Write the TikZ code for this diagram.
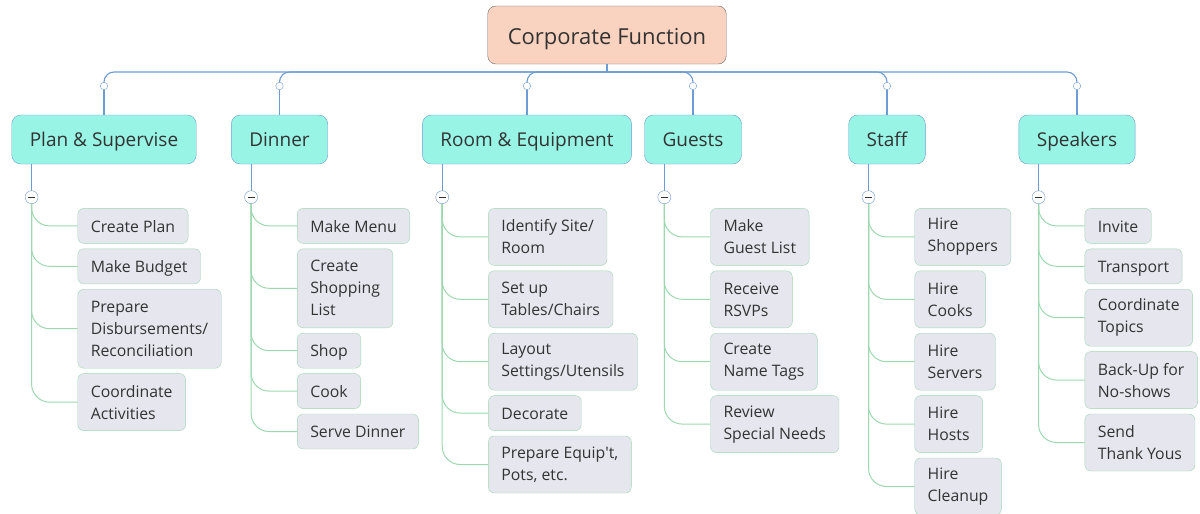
\documentclass[tikz,border=0pt]{standalone}
\usepackage{fontspec}
\setmainfont{Open Sans}
\usetikzlibrary{positioning}
\definecolor{rootfill}{HTML}{FAD3C0}
\definecolor{branchfill}{HTML}{98F5E6}
\definecolor{leaffill}{HTML}{E6E6EF}
\definecolor{bluelink}{HTML}{6D9BD3}
\definecolor{greenlink}{HTML}{9DD8AF}
\definecolor{inkgray}{HTML}{333333}

\begin{document}
\begin{tikzpicture}[x=1pt, y=-1pt,
	root/.style={rectangle, rounded corners=8pt, draw=gray!80!black, fill=rootfill, minimum height=58pt, inner xsep=20pt, text height=19pt, text depth=0pt, font=\fontsize{22}{26}\selectfont, text=inkgray},
	branch/.style={rectangle, rounded corners=9pt, draw=bluelink, fill=branchfill, minimum height=49pt, inner xsep=18pt, text height=14.4pt, text depth=0pt, font=\fontsize{19}{22}\selectfont, text=inkgray},
	leaf/.style={rectangle, rounded corners=6pt, draw=greenlink, fill=leaffill, minimum height=35pt, inner xsep=13pt, align=left, font=\fontsize{15.8}{22}\selectfont, text=inkgray},
	oneline/.style={text height=12.5pt, text depth=0pt},
	twoline/.style={minimum height=57pt},
	threeline/.style={minimum height=79pt},
	knob/.style={circle, draw=bluelink, fill=white, inner sep=0pt, minimum size=7.5pt},
	fold/.style={circle, draw=bluelink, fill=white, inner sep=0pt, minimum size=13pt, path picture={\draw[inkgray, line width=1.1pt] ([xshift=-3.5pt]path picture bounding box.center) -- ([xshift=3.5pt]path picture bounding box.center);}},
	stem/.style={draw=bluelink, line width=1.1pt},
	twig/.style={draw=greenlink, line width=1pt, rounded corners=18pt}]
	\useasboundingbox (0,0) rectangle (1200,514);

	% nodes
	\node[root] (root) at (607,35) {Corporate Function};
	\coordinate (bar) at (607,72);

	\node[branch] (plan) at (104,139.5) {Plan \& Supervise};
	\node[branch] (dinner) at (279.5,139.5) {Dinner};
	\node[branch] (room) at (527,139.5) {Room \& Equipment};
	\node[branch] (guests) at (693,139.5) {Guests};
	\node[branch] (staff) at (887,139.5) {Staff};
	\node[branch] (speak) at (1077,139.5) {Speakers};

	\node[knob] (kplan) at (104,86) {};
	\node[knob] (kdinner) at (279.5,86) {};
	\node[knob] (kroom) at (527,86) {};
	\node[knob] (kguests) at (693,86) {};
	\node[knob] (kstaff) at (887,86) {};
	\node[knob] (kspeak) at (1077,86) {};

	\node[fold] (fplan) at ([shift={(20,33)}]plan.south west) {};
	\node[fold] (fdinner) at ([shift={(20,33)}]dinner.south west) {};
	\node[fold] (froom) at ([shift={(20,33)}]room.south west) {};
	\node[fold] (fguests) at ([shift={(20,33)}]guests.south west) {};
	\node[fold] (fstaff) at ([shift={(20,33)}]staff.south west) {};
	\node[fold] (fspeak) at ([shift={(20,33)}]speak.south west) {};

	% plan & supervise
	\node[leaf, oneline, anchor=north west] (mkplan) at ([shift={(46,11)}]fplan.center) {Create Plan};
	\node[leaf, oneline, below=5pt of mkplan.south west, anchor=north west] (budget) {Make Budget};
	\node[leaf, threeline, below=5pt of budget.south west, anchor=north west] (disb) {Prepare\\Disbursements/\\Reconciliation};
	\node[leaf, twoline, below=5pt of disb.south west, anchor=north west] (coact) {Coordinate\\Activities};

	% dinner
	\node[leaf, oneline, anchor=north west] (menu) at ([shift={(46,11)}]fdinner.center) {Make Menu};
	\node[leaf, threeline, below=5pt of menu.south west, anchor=north west] (shlist) {Create\\Shopping\\List};
	\node[leaf, oneline, below=5pt of shlist.south west, anchor=north west] (shop) {Shop};
	\node[leaf, oneline, below=5pt of shop.south west, anchor=north west] (cook) {Cook};
	\node[leaf, oneline, below=5pt of cook.south west, anchor=north west] (serve) {Serve Dinner};

	% room & equipment
	\node[leaf, twoline, anchor=north west] (site) at ([shift={(46,11)}]froom.center) {Identify Site/\\Room};
	\node[leaf, twoline, below=5pt of site.south west, anchor=north west] (tables) {Set up\\Tables/Chairs};
	\node[leaf, twoline, below=5pt of tables.south west, anchor=north west] (layout) {Layout\\Settings/Utensils};
	\node[leaf, oneline, below=5pt of layout.south west, anchor=north west] (decor) {Decorate};
	\node[leaf, twoline, below=5pt of decor.south west, anchor=north west] (equip) {Prepare Equip\textquotesingle t,\\Pots, etc.};

	% guests
	\node[leaf, twoline, anchor=north west] (glist) at ([shift={(46,11)}]fguests.center) {Make\\Guest List};
	\node[leaf, twoline, below=5pt of glist.south west, anchor=north west] (rsvp) {Receive\\RSVPs};
	\node[leaf, twoline, below=5pt of rsvp.south west, anchor=north west] (tags) {Create\\Name Tags};
	\node[leaf, twoline, below=5pt of tags.south west, anchor=north west] (needs) {Review\\Special Needs};

	% staff
	\node[leaf, twoline, anchor=north west] (shoppers) at ([shift={(46,11)}]fstaff.center) {Hire\\Shoppers};
	\node[leaf, twoline, below=5pt of shoppers.south west, anchor=north west] (cooks) {Hire\\Cooks};
	\node[leaf, twoline, below=5pt of cooks.south west, anchor=north west] (servers) {Hire\\Servers};
	\node[leaf, twoline, below=5pt of servers.south west, anchor=north west] (hosts) {Hire\\Hosts};
	\node[leaf, twoline, below=5pt of hosts.south west, anchor=north west] (cleanup) {Hire\\Cleanup};

	% speakers
	\node[leaf, oneline, anchor=north west] (invite) at ([shift={(46,11)}]fspeak.center) {Invite};
	\node[leaf, oneline, below=5pt of invite.south west, anchor=north west] (transp) {Transport};
	\node[leaf, twoline, below=5pt of transp.south west, anchor=north west] (topics) {Coordinate\\Topics};
	\node[leaf, twoline, below=5pt of topics.south west, anchor=north west] (backup) {Back-Up for\\No-shows};
	\node[leaf, twoline, below=5pt of backup.south west, anchor=north west] (thanks) {Send\\Thank Yous};

	% edges
	\draw[stem] (root) -- (bar);
	\draw[stem, rounded corners=10pt] (bar) -| (kplan);
	\draw[stem, rounded corners=10pt] (bar) -| (kdinner);
	\draw[stem, rounded corners=10pt] (bar) -| (kroom);
	\draw[stem, rounded corners=10pt] (bar) -| (kguests);
	\draw[stem, rounded corners=10pt] (bar) -| (kstaff);
	\draw[stem, rounded corners=10pt] (bar) -| (kspeak);
	\draw[stem] (kplan) -- (plan);
	\draw[stem] (kdinner) -- (dinner);
	\draw[stem] (kroom) -- (room);
	\draw[stem] (kguests) -- (guests);
	\draw[stem] (kstaff) -- (staff);
	\draw[stem] (kspeak) -- (speak);
	\draw[stem] (fplan) -- (fplan |- plan.south);
	\draw[stem] (fdinner) -- (fdinner |- dinner.south);
	\draw[stem] (froom) -- (froom |- room.south);
	\draw[stem] (fguests) -- (fguests |- guests.south);
	\draw[stem] (fstaff) -- (fstaff |- staff.south);
	\draw[stem] (fspeak) -- (fspeak |- speak.south);

	\draw[twig] (fplan) |- (mkplan);
	\draw[twig] (fplan) |- (budget);
	\draw[twig] (fplan) |- (disb);
	\draw[twig] (fplan) |- (coact);
	\draw[twig] (fdinner) |- (menu);
	\draw[twig] (fdinner) |- (shlist);
	\draw[twig] (fdinner) |- (shop);
	\draw[twig] (fdinner) |- (cook);
	\draw[twig] (fdinner) |- (serve);
	\draw[twig] (froom) |- (site);
	\draw[twig] (froom) |- (tables);
	\draw[twig] (froom) |- (layout);
	\draw[twig] (froom) |- (decor);
	\draw[twig] (froom) |- (equip);
	\draw[twig] (fguests) |- (glist);
	\draw[twig] (fguests) |- (rsvp);
	\draw[twig] (fguests) |- (tags);
	\draw[twig] (fguests) |- (needs);
	\draw[twig] (fstaff) |- (shoppers);
	\draw[twig] (fstaff) |- (cooks);
	\draw[twig] (fstaff) |- (servers);
	\draw[twig] (fstaff) |- (hosts);
	\draw[twig] (fstaff) |- (cleanup);
	\draw[twig] (fspeak) |- (invite);
	\draw[twig] (fspeak) |- (transp);
	\draw[twig] (fspeak) |- (topics);
	\draw[twig] (fspeak) |- (backup);
	\draw[twig] (fspeak) |- (thanks);
\end{tikzpicture}
\end{document}
